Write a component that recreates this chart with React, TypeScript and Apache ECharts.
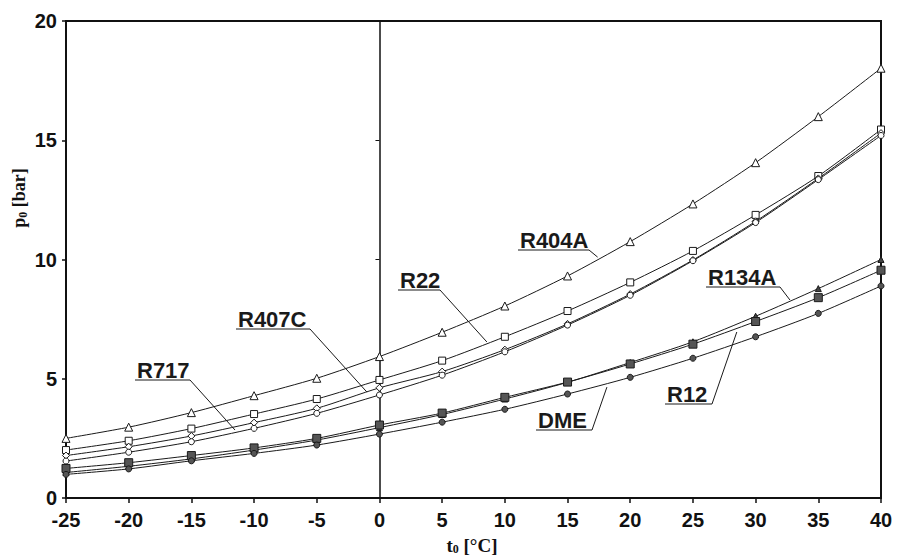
import React, { useEffect, useRef } from "react";
import * as echarts from "echarts";

// ---- data ----
const temperatures = [-25, -20, -15, -10, -5, 0, 5, 10, 15, 20, 25, 30, 35, 40];
const xTicks = { min: -25, max: 40, interval: 5 };
const yTicks = { min: 0, max: 20, interval: 5 };

const r404a = [2.5, 2.97, 3.58, 4.29, 5.02, 5.93, 6.95, 8.05, 9.31, 10.75, 12.33, 14.06, 15.99, 18.02];
const r22 = [2.01, 2.4, 2.91, 3.52, 4.15, 4.95, 5.76, 6.76, 7.84, 9.04, 10.36, 11.87, 13.5, 15.45];
const r407c = [1.78, 2.15, 2.6, 3.16, 3.76, 4.62, 5.3, 6.22, 7.3, 8.55, 9.98, 11.6, 13.4, 15.3];
const r717 = [1.55, 1.92, 2.36, 2.92, 3.55, 4.32, 5.15, 6.13, 7.25, 8.5, 9.95, 11.55, 13.35, 15.2];
const r134a = [1.07, 1.33, 1.64, 2.01, 2.43, 2.95, 3.5, 4.15, 4.85, 5.68, 6.55, 7.62, 8.78, 10.0];
const r12 = [1.24, 1.48, 1.78, 2.1, 2.5, 3.06, 3.56, 4.22, 4.86, 5.62, 6.45, 7.4, 8.4, 9.55];
const dme = [0.99, 1.22, 1.56, 1.87, 2.22, 2.68, 3.18, 3.72, 4.36, 5.06, 5.86, 6.76, 7.74, 8.89];

const seriesNames = ["R404A", "R22", "R407C", "R717", "R134A", "R12", "DME"];
const seriesValues = [r404a, r22, r407c, r717, r134a, r12, dme];

// anchors of label leader lines, in data coordinates [t, p]
const anchorPoints: [number, number][] = [
  [17.4, 10.1],
  [8.57, 6.54],
  [-1.0, 4.44],
  [-11.52, 2.85],
  [32.74, 8.3],
  [28.5, 6.96],
  [18.14, 4.65],
];

// label layout (pixels)
const labelLayout = [
  { left: 520, underlineY: 250, x1: 518, x2: 589 },
  { left: 400, underlineY: 290, x1: 398, x2: 440 },
  { left: 238, underlineY: 329, x1: 236, x2: 310 },
  { left: 137, underlineY: 380, x1: 135, x2: 190 },
  { left: 708, underlineY: 287, x1: 706, x2: 780 },
  { left: 667, underlineY: 404, x1: 665, x2: 712 },
  { left: 538, underlineY: 430, x1: 536, x2: 592 },
];

const markerStyles = [
  { symbol: "triangle", size: 8, fill: "#ffffff" },
  { symbol: "rect", size: 7, fill: "#ffffff" },
  { symbol: "diamond", size: 7, fill: "#ffffff" },
  { symbol: "circle", size: 6, fill: "#ffffff" },
  { symbol: "triangle", size: 6, fill: "#444444" },
  { symbol: "rect", size: 8, fill: "#555555" },
  { symbol: "circle", size: 6, fill: "#555555" },
];

const SANS = '"Liberation Sans", Arial, sans-serif';
const SERIF = '"Liberation Serif", "Times New Roman", serif';

export default function App() {
  const ref = useRef<HTMLDivElement>(null);

  useEffect(() => {
    if (!ref.current) return;
    const chart = echarts.init(ref.current, undefined, { renderer: "svg" });

    const series = seriesNames.map((name, i) => ({
      name,
      type: "line",
      data: temperatures.map((t, k) => [t, seriesValues[i][k]]),
      smooth: 0.25,
      symbol: markerStyles[i].symbol,
      symbolSize: markerStyles[i].size,
      showAllSymbol: true,
      lineStyle: { color: "#1a1a1a", width: 1 },
      itemStyle: { color: markerStyles[i].fill, borderColor: "#1a1a1a", borderWidth: 1 },
      z: 3,
    }));

    chart.setOption({
      animation: false,
      backgroundColor: "#ffffff",
      grid: {
        left: 66,
        right: 16,
        top: 21,
        bottom: 57,
        show: true,
        borderColor: "#111111",
        borderWidth: 2,
        backgroundColor: "transparent",
      },
      xAxis: {
        type: "value",
        min: xTicks.min,
        max: xTicks.max,
        interval: xTicks.interval,
        axisLine: { show: true, onZero: false, lineStyle: { color: "#111111", width: 2 } },
        axisTick: { show: true, length: 5, lineStyle: { color: "#111111", width: 1.5 } },
        axisLabel: { color: "#111111", fontFamily: SANS, fontWeight: "bold", fontSize: 20, margin: 12 },
        splitLine: { show: false },
      },
      yAxis: [
        {
          type: "value",
          min: yTicks.min,
          max: yTicks.max,
          interval: yTicks.interval,
          axisLine: { show: true, onZero: false, lineStyle: { color: "#111111", width: 2 } },
          axisTick: { show: true, length: 4, lineStyle: { color: "#111111", width: 1.5 } },
          axisLabel: { color: "#111111", fontFamily: SANS, fontWeight: "bold", fontSize: 20, margin: 9 },
          splitLine: { show: false },
        },
        {
          type: "value",
          position: "left",
          min: yTicks.min,
          max: yTicks.max,
          interval: yTicks.interval,
          axisLine: { show: true, onZero: true, lineStyle: { color: "#111111", width: 1.5 } },
          axisTick: { show: true, length: 4, lineStyle: { color: "#111111", width: 1 } },
          axisLabel: { show: false },
          splitLine: { show: false },
        },
      ],
      series,
    });

    const graphics: any[] = [];
    seriesNames.forEach((name, i) => {
      const lay = labelLayout[i];
      const p = chart.convertToPixel({ gridIndex: 0 }, anchorPoints[i]) as number[];
      graphics.push({
        type: "text",
        x: lay.left,
        y: lay.underlineY - 10,
        style: {
          text: name,
          fill: "#1a1a1a",
          font: `bold 22px ${SANS}`,
          verticalAlign: "middle",
          align: "left",
        },
        z: 10,
      });
      graphics.push({
        type: "polyline",
        shape: { points: [[lay.x1, lay.underlineY], [lay.x2, lay.underlineY], [p[0], p[1]]] },
        style: { stroke: "#1a1a1a", lineWidth: 1, fill: null },
        z: 10,
      });
    });

    graphics.push({
      type: "text",
      x: 19,
      y: 198,
      rotation: Math.PI / 2,
      style: {
        text: "p{sub|0} [bar]",
        fill: "#111111",
        font: `bold 18px ${SERIF}`,
        align: "center",
        verticalAlign: "middle",
        rich: {
          sub: { font: `bold 12px ${SERIF}`, fill: "#111111", padding: [8, 0, 0, 0] },
        },
      },
      z: 10,
    });
    graphics.push({
      type: "text",
      x: 472,
      y: 545,
      style: {
        text: "t{sub|0} [°C]",
        fill: "#111111",
        font: `bold 19px ${SERIF}`,
        align: "center",
        verticalAlign: "middle",
        rich: {
          sub: { font: `bold 12px ${SERIF}`, fill: "#111111", padding: [8, 0, 0, 0] },
        },
      },
      z: 10,
    });

    chart.setOption({ graphic: graphics });

    return () => chart.dispose();
  }, []);

  return (
    <div
      ref={ref}
      style={{ position: "fixed", left: 0, top: 0, width: 897, height: 555, background: "#fff" }}
    />
  );
}
